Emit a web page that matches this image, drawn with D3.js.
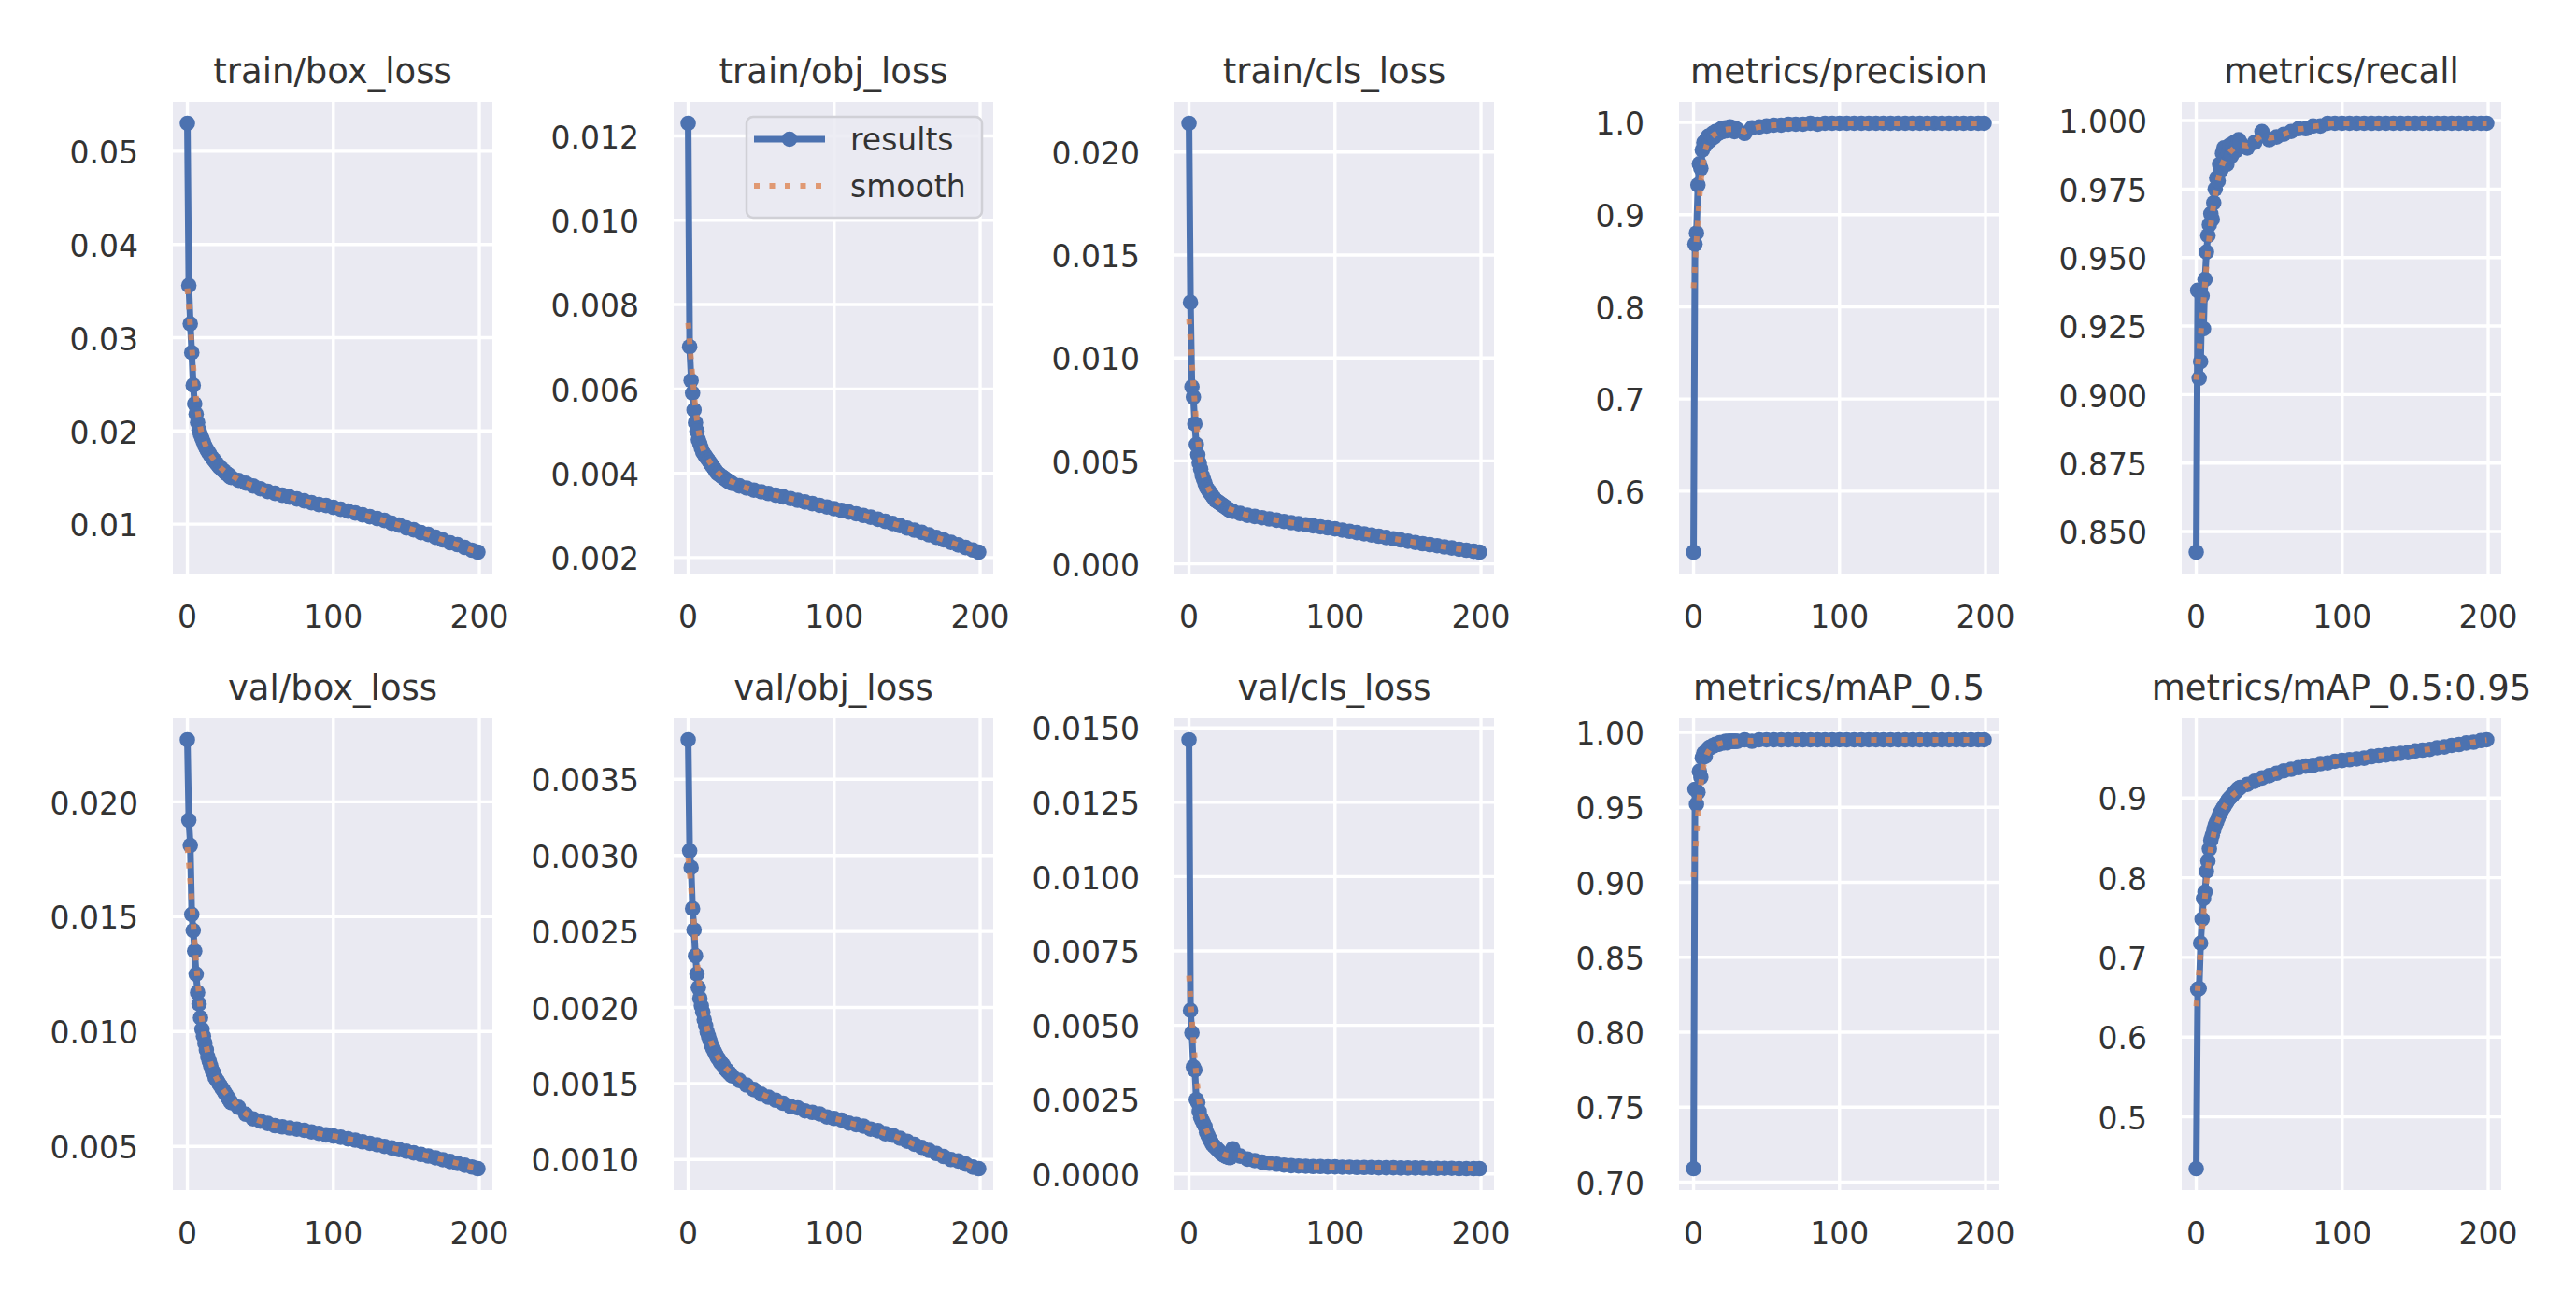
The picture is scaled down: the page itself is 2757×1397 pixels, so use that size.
<!DOCTYPE html>
<html>
<head>
<meta charset="utf-8">
<script src="https://cdn.jsdelivr.net/npm/d3@7"></script>
<style>
  body { margin: 0; background: #ffffff; }
  text { font-family: "DejaVu Sans", sans-serif; fill: #333333; }
</style>
</head>
<body>
<svg id="chart"></svg>
<script>
const epochs = [0,1,2,3,4,5,6,7,8,9,10,11,12,13,14,15,16,17,18,19,20,21,22,23,24,25,26,27,28,29,
  30,35,40,45,50,55,60,65,70,75,80,85,90,95,100,105,110,115,120,125,130,135,140,145,150,155,160,165,170,175,180,185,190,195,199];

const trainBoxLoss = [0.0530,0.0356,0.0315,0.0284,0.0249,0.0229,0.0218,0.0209,0.0201,0.0196,
  0.0192,0.0188,0.0184,0.0181,0.0178,0.0176,0.0173,0.0171,0.0169,0.0167,
  0.0165,0.0163,0.0161,0.0160,0.0158,0.0157,0.0155,0.0154,0.0153,0.0151,
  0.0150,0.0147,0.0144,0.0141,0.0138,0.0135,0.0133,0.0131,0.0129,0.0127,
  0.0125,0.0123,0.0121,0.0120,0.0118,0.0116,0.0114,0.0112,0.0110,0.0108,
  0.0106,0.0104,0.0101,0.0099,0.0096,0.0094,0.0091,0.0089,0.0086,0.0083,
  0.0080,0.0078,0.0075,0.0072,0.0070];

const trainObjLoss = [0.0123,0.0070,0.0062,0.0059,0.0055,0.0052,0.0050,0.0048,0.0047,0.0046,
  0.0045,0.00445,0.0044,0.00435,0.0043,0.00425,0.0042,0.00415,0.0041,0.00405,
  0.0040,0.00398,0.00395,0.00392,0.0039,0.00387,0.00385,0.00382,0.0038,0.00378,
  0.00376,0.0037,0.00365,0.0036,0.00356,0.00352,0.00348,0.00344,0.0034,0.00336,
  0.00332,0.00328,0.00324,0.0032,0.00316,0.00312,0.00308,0.00304,0.003,0.00296,
  0.00291,0.00286,0.00281,0.00276,0.0027,0.00265,0.0026,0.00254,0.00248,0.00242,
  0.00236,0.0023,0.00224,0.00218,0.00213];

const trainClsLoss = [0.0214,0.0127,0.0086,0.0081,0.0068,0.0058,0.0053,0.0049,0.0046,0.0043,
  0.0041,0.0039,0.0037,0.0036,0.0035,0.0034,0.0033,0.0032,0.0031,0.00305,
  0.0030,0.00295,0.0029,0.00285,0.0028,0.00275,0.0027,0.00265,0.0026,0.00258,
  0.00255,0.00245,0.00236,0.0023,0.00224,0.00218,0.00212,0.00206,0.002,0.00195,
  0.0019,0.00185,0.0018,0.00175,0.0017,0.00164,0.00158,0.00152,0.00146,0.0014,
  0.00134,0.00128,0.00122,0.00116,0.0011,0.00104,0.00098,0.00093,0.00088,0.00082,
  0.00077,0.00071,0.00066,0.00061,0.00057];

const precision = [0.534,0.868,0.880,0.932,0.955,0.950,0.970,0.978,0.975,0.982,
  0.985,0.980,0.986,0.988,0.984,0.990,0.987,0.991,0.989,0.993,
  0.990,0.992,0.994,0.991,0.993,0.995,0.992,0.994,0.990,0.993,
  0.992,0.988,0.994,0.995,0.996,0.997,0.997,0.998,0.998,0.998,
  0.999,0.998,0.999,0.999,0.999,0.999,0.999,0.999,0.999,0.999,
  0.999,0.999,0.999,0.999,0.999,0.999,0.999,0.999,0.999,0.999,
  0.999,0.999,0.999,0.999,0.999];

const recall = [0.8425,0.938,0.906,0.912,0.936,0.924,0.942,0.952,0.958,0.962,
  0.966,0.964,0.970,0.975,0.979,0.978,0.984,0.982,0.988,0.990,
  0.986,0.984,0.988,0.991,0.987,0.990,0.992,0.989,0.991,0.993,
  0.992,0.990,0.992,0.996,0.993,0.994,0.995,0.996,0.997,0.997,
  0.998,0.998,0.999,0.999,0.999,0.999,0.999,0.999,0.999,0.999,
  0.999,0.999,0.999,0.999,0.999,0.999,0.999,0.999,0.999,0.999,
  0.999,0.999,0.999,0.999,0.999];

const valBoxLoss = [0.0227,0.0192,0.0181,0.0151,0.0144,0.0135,0.0125,0.0117,0.0112,0.0106,
  0.0101,0.0098,0.0095,0.0092,0.0089,0.0087,0.0085,0.0083,0.0082,0.0080,
  0.0079,0.0078,0.0077,0.0076,0.0075,0.0074,0.0073,0.0072,0.0071,0.0070,
  0.0069,0.0067,0.0064,0.0062,0.0061,0.0060,0.0059,0.00585,0.0058,0.00575,
  0.0057,0.00563,0.00557,0.0055,0.00545,0.0054,0.00533,0.00527,0.0052,0.00513,
  0.00507,0.0050,0.00493,0.00486,0.00479,0.00472,0.00465,0.00458,0.0045,0.00442,
  0.00434,0.00426,0.00418,0.0041,0.00403];

const valObjLoss = [0.00376,0.00303,0.00292,0.00265,0.00251,0.00234,0.00222,0.00213,0.00206,0.00201,
  0.00197,0.00192,0.00188,0.00184,0.00181,0.00178,0.00175,0.00173,0.00171,0.00169,
  0.00167,0.00166,0.00164,0.00163,0.00162,0.00160,0.00159,0.00158,0.00157,0.00156,
  0.00155,0.00152,0.00149,0.00146,0.00143,0.00141,0.00139,0.00137,0.00135,0.00134,
  0.00132,0.00131,0.0013,0.00128,0.00127,0.00126,0.00124,0.00123,0.00122,0.0012,
  0.00119,0.00117,0.00116,0.00114,0.00112,0.0011,0.00108,0.00106,0.00104,0.00102,
  0.001,0.00099,0.00097,0.00095,0.00094];

const valClsLoss = [0.0146,0.0055,0.00475,0.0036,0.0035,0.0025,0.0024,0.0021,0.0019,0.0018,
  0.0017,0.0016,0.0014,0.0013,0.0012,0.0011,0.0010,0.00095,0.0009,0.00085,
  0.0008,0.00075,0.0007,0.00066,0.00063,0.0006,0.00058,0.00056,0.00055,0.0006,
  0.00085,0.0006,0.0005,0.00045,0.0004,0.00036,0.00033,0.0003,0.00028,0.00027,
  0.00026,0.00025,0.00025,0.00024,0.00024,0.00023,0.00023,0.00022,0.00022,0.00022,
  0.00021,0.00021,0.00021,0.0002,0.0002,0.0002,0.0002,0.00019,0.00019,0.00019,
  0.00019,0.00018,0.00018,0.00018,0.00018];

const mAP50 = [0.709,0.962,0.952,0.960,0.974,0.970,0.983,0.986,0.984,0.988,
  0.989,0.990,0.990,0.991,0.991,0.992,0.992,0.992,0.993,0.993,
  0.993,0.993,0.994,0.993,0.994,0.994,0.994,0.994,0.994,0.994,
  0.994,0.995,0.994,0.995,0.995,0.995,0.995,0.995,0.995,0.995,
  0.995,0.995,0.995,0.995,0.995,0.995,0.995,0.995,0.995,0.995,
  0.995,0.995,0.995,0.995,0.995,0.995,0.995,0.995,0.995,0.995,
  0.995,0.995,0.995,0.995,0.995];

const mAP5095 = [0.435,0.660,0.661,0.718,0.748,0.774,0.782,0.808,0.821,0.836,
  0.847,0.853,0.860,0.866,0.870,0.875,0.879,0.883,0.886,0.889,
  0.892,0.895,0.898,0.900,0.902,0.904,0.906,0.908,0.910,0.912,
  0.913,0.917,0.921,0.925,0.928,0.931,0.934,0.936,0.938,0.940,
  0.941,0.943,0.944,0.946,0.947,0.948,0.949,0.950,0.952,0.953,
  0.954,0.955,0.956,0.957,0.959,0.960,0.961,0.963,0.964,0.966,
  0.967,0.969,0.970,0.972,0.973];

const titles = ["train/box_loss","train/obj_loss","train/cls_loss","metrics/precision","metrics/recall",
  "val/box_loss","val/obj_loss","val/cls_loss","metrics/mAP_0.5","metrics/mAP_0.5:0.95"];
const xTicks = [0, 100, 200];
const yTickSets = [
  [0.01,0.02,0.03,0.04,0.05],
  [0.002,0.004,0.006,0.008,0.010,0.012],
  [0.000,0.005,0.010,0.015,0.020],
  [0.6,0.7,0.8,0.9,1.0],
  [0.850,0.875,0.900,0.925,0.950,0.975,1.000],
  [0.005,0.010,0.015,0.020],
  [0.0010,0.0015,0.0020,0.0025,0.0030,0.0035],
  [0.0000,0.0025,0.0050,0.0075,0.0100,0.0125,0.0150],
  [0.70,0.75,0.80,0.85,0.90,0.95,1.00],
  [0.5,0.6,0.7,0.8,0.9]
];
const yTickFormats = [".2f",".3f",".3f",".1f",".3f",".3f",".4f",".4f",".2f",".1f"];
const legendLabels = ["results", "smooth"];

const seriesList = [trainBoxLoss, trainObjLoss, trainClsLoss, precision, recall,
  valBoxLoss, valObjLoss, valClsLoss, mAP50, mAP5095];

// layout
const W = 2757, H = 1397;
const colLeft = [185, 721, 1257, 1797, 2335];
const rowTop = [109, 769];
const PW = 342, PH = 505;
const BLUE = "#4C72B0", ORANGE = "#DD8452", BG = "#EAEAF2";
const LW = 7;
const R = 8.3;

const svg = d3.select("#chart").attr("width", W).attr("height", H);
svg.append("rect").attr("width", W).attr("height", H).attr("fill", "#ffffff");

// gaussian smoothing along epochs (what the "smooth" line shows)
function smooth(xs, ys, sigma){
    return ys.map((_, i) => {
        let wSum = 0, vSum = 0;
        xs.forEach((x, j) => {
            let k = Math.exp(-((x - xs[i]) ** 2) / (2 * sigma * sigma));
            wSum += k;
            vSum += k * ys[j];
        });
        return vSum / wSum;
    });
}

// matplotlib style 5% margins
function padded(ext){
    let m = (ext[1] - ext[0]) * 0.05;
    return [ext[0] - m, ext[1] + m];
}

seriesList.forEach((values, idx) => {
    let row = Math.floor(idx / 5), col = idx % 5;
    let g = svg.append("g").attr("transform", `translate(${colLeft[col]},${rowTop[row]})`);

    let x = d3.scaleLinear().domain(padded(d3.extent(epochs))).range([0, PW]);
    let y = d3.scaleLinear().domain(padded(d3.extent(values))).range([PH, 0]);
    let fmt = d3.format(yTickFormats[idx]);

    g.append("clipPath").attr("id", "clip" + idx)
        .append("rect").attr("width", PW).attr("height", PH);

    g.append("rect").attr("width", PW).attr("height", PH).attr("fill", BG);

    // grid
    g.selectAll(".hgrid").data(yTickSets[idx]).join("line")
        .attr("x1", 0).attr("x2", PW)
        .attr("y1", d => y(d)).attr("y2", d => y(d))
        .attr("stroke", "#ffffff").attr("stroke-width", 3.4);
    g.selectAll(".vgrid").data(xTicks).join("line")
        .attr("y1", 0).attr("y2", PH)
        .attr("x1", d => x(d)).attr("x2", d => x(d))
        .attr("stroke", "#ffffff").attr("stroke-width", 3.4);

    // tick labels
    g.selectAll(".ylab").data(yTickSets[idx]).join("text")
        .attr("x", -37).attr("y", d => y(d))
        .attr("dy", "0.4em")
        .attr("text-anchor", "end")
        .style("font-size", "33px")
        .text(d => fmt(d));
    g.selectAll(".xlab").data(xTicks).join("text")
        .attr("x", d => x(d)).attr("y", PH + 58)
        .attr("text-anchor", "middle")
        .style("font-size", "33px")
        .text(d => d);

    // title
    g.append("text")
        .attr("x", PW / 2).attr("y", -20)
        .attr("text-anchor", "middle")
        .style("font-size", "37px")
        .text(titles[idx]);

    let pts = epochs.map((e, i) => [e, values[i]]);
    let sm = smooth(epochs, values, 3);
    let smPts = epochs.map((e, i) => [e, sm[i]]);
    let line = d3.line().x(d => x(d[0])).y(d => y(d[1]));

    let data = g.append("g").attr("clip-path", `url(#clip${idx})`);
    data.append("path").datum(pts)
        .attr("d", line)
        .attr("fill", "none")
        .attr("stroke", BLUE)
        .attr("stroke-width", LW)
        .attr("stroke-linejoin", "round");
    data.selectAll("circle").data(pts).join("circle")
        .attr("cx", d => x(d[0])).attr("cy", d => y(d[1]))
        .attr("r", R)
        .attr("fill", BLUE);
    data.append("path").datum(smPts)
        .attr("d", line)
        .attr("fill", "none")
        .attr("stroke", ORANGE)
        .attr("stroke-opacity", 0.8)
        .attr("stroke-width", 6)
        .attr("stroke-dasharray", "6,10.5");

    // legend only on the train/obj_loss panel
    if (idx === 1){
        let lg = g.append("g").attr("transform", `translate(${799 - colLeft[col]},${125 - rowTop[row]})`);
        lg.append("rect")
            .attr("width", 252).attr("height", 108)
            .attr("rx", 7).attr("ry", 7)
            .attr("fill", BG).attr("fill-opacity", 0.85)
            .attr("stroke", "#d0d0d6").attr("stroke-width", 2.5);
        lg.append("line")
            .attr("x1", 8).attr("x2", 84).attr("y1", 24).attr("y2", 24)
            .attr("stroke", BLUE).attr("stroke-width", LW);
        lg.append("circle").attr("cx", 46).attr("cy", 24).attr("r", R).attr("fill", BLUE);
        lg.append("line")
            .attr("x1", 8).attr("x2", 84).attr("y1", 74).attr("y2", 74)
            .attr("stroke", ORANGE).attr("stroke-opacity", 0.8).attr("stroke-width", 6)
            .attr("stroke-dasharray", "6,10.5");
        lg.selectAll(".ltext").data(legendLabels).join("text")
            .attr("x", 111).attr("y", (d, i) => 36 + i * 50)
            .style("font-size", "33px")
            .text(d => d);
    }
});
</script>
</body>
</html>
